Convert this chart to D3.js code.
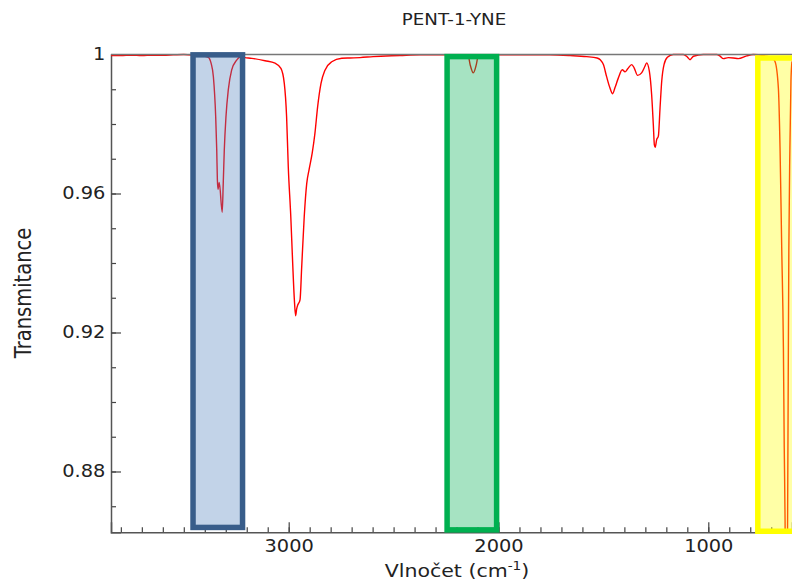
<!DOCTYPE html>
<html>
<head>
<meta charset="utf-8">
<script src="https://cdn.jsdelivr.net/npm/d3@7"></script>
<style>
  body { margin: 0; background: #fff; }
  text { font-family: "DejaVu Sans", sans-serif; fill: #222; }
</style>
</head>
<body>
<svg id="chart" width="792" height="582"></svg>
<script>
// spectrum (wavenumber cm-1, transmittance)
var wavenumber = [3847, 3800, 3750, 3700, 3650, 3600, 3550, 3500, 3450, 3420, 3400, 3383, 3370, 3359,
    3348, 3343, 3340, 3337, 3331, 3317, 3312, 3307, 3299, 3288, 3272, 3248, 3232, 3208, 3176, 3113,
    3065, 3037, 3021, 3010, 3002, 2990, 2981, 2973, 2967, 2962, 2957, 2946, 2938, 2926, 2914, 2903,
    2888, 2875, 2862, 2846, 2827, 2795, 2747, 2708, 2660, 2598, 2470, 2374, 2255, 2145, 2135, 2120,
    2106, 2096, 1993, 1755, 1659, 1580, 1530, 1515, 1500, 1485, 1469, 1456, 1445, 1429, 1410, 1397,
    1384, 1365, 1353, 1337, 1318, 1302, 1294, 1281, 1270, 1262, 1257, 1253, 1246, 1238, 1230, 1222,
    1211, 1195, 1167, 1119, 1100, 1087, 1071, 1024, 960, 945, 928, 905, 881, 857, 817, 786, 730, 696,
    682, 666, 658, 650, 642, 638, 634, 631, 628, 625, 622, 619, 616, 611, 606, 601];
var transmittance = [0.9997, 0.9997, 0.9998, 0.9997, 0.9998, 0.9998, 0.9999, 1.0, 0.9998, 0.9996, 0.9995, 0.9992, 0.9975, 0.9936,
    0.9821, 0.9725, 0.9640, 0.9612, 0.9632, 0.9546, 0.9629, 0.9725, 0.9821, 0.9898, 0.9955, 0.9984, 0.9993, 0.9991, 0.9989, 0.9982,
    0.9975, 0.9960, 0.9917, 0.9821, 0.9677, 0.9533, 0.9399, 0.9294, 0.9248, 0.9268, 0.9279, 0.9294, 0.9389, 0.9533, 0.9629, 0.9668,
    0.9716, 0.9773, 0.9850, 0.9917, 0.9955, 0.9979, 0.9989, 0.9990, 0.9991, 0.9994, 0.9997, 0.9999, 0.9999, 0.9997, 0.9970, 0.9947,
    0.9970, 0.9997, 0.9999, 0.9999, 0.9997, 0.9994, 0.9990, 0.9985, 0.9971, 0.9937, 0.9904, 0.9887, 0.9904, 0.9932, 0.9956, 0.9950,
    0.9959, 0.9971, 0.9961, 0.9940, 0.9947, 0.9966, 0.9976, 0.9952, 0.9884, 0.9798, 0.9740, 0.9733, 0.9755, 0.9765, 0.9846, 0.9923,
    0.9971, 0.9992, 1.0, 1.0, 0.9993, 0.9985, 0.9995, 1.0, 1.0, 0.9996, 0.9988, 0.9991, 0.9990, 0.9988, 0.9996, 1.0, 0.9996, 0.9990,
    0.9980, 0.9904, 0.9731, 0.9443, 0.9157, 0.8869, 0.8658, 0.835, 0.82, 0.835, 0.8658, 0.9060, 0.9443, 0.9731, 0.9924, 0.9980];

// highlighted bands
var boxStart = [3456, 2245, 764];
var boxEnd = [3220, 2009, 560];
var boxTop = [0.9999, 0.9994, 0.9990];
var boxBottom = [0.8639, 0.8632, 0.8628];
var boxStroke = ["#385d8a", "#00b050", "#ffff00"];
var boxFill = ["#4f81bd", "#00b050", "#ffff00"];

var xMajor = [3000, 2000, 1000];
var xMinor = d3.range(700, 3801, 100);
var yMajor = [0.88, 0.92, 0.96, 1];
var yLabels = ["0.88", "0.92", "0.96", "1"];
var yMinor = [0.87, 0.88, 0.89, 0.90, 0.91, 0.92, 0.93, 0.94, 0.95, 0.96, 0.97, 0.98, 0.99, 1];

var svg = d3.select("#chart");
var pLeft = 111, pRight = 792, pTop = 54.5, pBottom = 532.3;
var stretch = "scale(1.14,1)"; // text in the picture is a bit wide

var x = d3.scaleLinear().domain([3847, 601]).range([pLeft, pRight]);
var y = d3.scaleLinear().domain([0.8625, 1]).range([pBottom, pTop]);

// title
svg.append("text")
    .attr("transform", "translate(454,25) " + stretch)
    .attr("text-anchor", "middle")
    .attr("font-size", 16)
    .text("PENT-1-YNE");

// minor ticks first, then the labelled ones
var yMinorAxis = svg.append("g")
    .attr("transform", "translate(" + pLeft + ",0)")
    .call(d3.axisLeft(y).tickValues(yMinor).tickSize(-5).tickFormat(""));
var yAxis = svg.append("g")
    .attr("transform", "translate(" + pLeft + ",0)")
    .call(d3.axisLeft(y).tickValues(yMajor).tickSize(-10).tickPadding(5)
        .tickFormat(function(d, i) { return yLabels[i]; }));
var xMinorAxis = svg.append("g")
    .attr("transform", "translate(0," + pBottom + ")")
    .call(d3.axisBottom(x).tickValues(xMinor).tickSize(-5).tickFormat(""));
var xAxis = svg.append("g")
    .attr("transform", "translate(0," + pBottom + ")")
    .call(d3.axisBottom(x).tickValues(xMajor).tickSize(-10).tickPadding(8)
        .tickFormat(d3.format("d")));

[yMinorAxis, yAxis, xMinorAxis, xAxis].forEach(function(g) {
    g.selectAll("path").attr("stroke", "#555").attr("stroke-width", 1.5);
    g.selectAll("line").attr("stroke", "#444").attr("stroke-width", 1.2);
    g.selectAll("text")
        .attr("font-size", 17)
        .attr("fill", "#222")
        .attr("font-family", "DejaVu Sans, sans-serif")
        .attr("transform", stretch);
});
yMinorAxis.select(".domain").remove();
xMinorAxis.select(".domain").remove();

// spectrum
svg.append("clipPath").attr("id", "plotclip")
    .append("rect")
    .attr("x", pLeft).attr("y", pTop - 10)
    .attr("width", pRight - pLeft).attr("height", pBottom - pTop + 10);

var points = wavenumber.map(function(d, i) { return [d, transmittance[i]]; });
var line = d3.line()
    .x(function(d) { return x(d[0]); })
    .y(function(d) { return y(d[1]); })
    .curve(d3.curveMonotoneX);

svg.append("path")
    .datum(points)
    .attr("clip-path", "url(#plotclip)")
    .attr("fill", "none")
    .attr("stroke", "#ff0000")
    .attr("stroke-width", 1.4)
    .attr("d", line);

// top frame line
svg.append("line")
    .attr("x1", pLeft).attr("x2", pRight)
    .attr("y1", y(1)).attr("y2", y(1))
    .attr("stroke", "#777")
    .attr("stroke-width", 1.5);

// coloured bands over the spectrum
svg.append("g")
    .selectAll("rect")
    .data(boxStart)
    .enter().append("rect")
    .attr("x", function(d) { return x(d); })
    .attr("y", function(d, i) { return y(boxTop[i]); })
    .attr("width", function(d, i) { return x(boxEnd[i]) - x(d); })
    .attr("height", function(d, i) { return y(boxBottom[i]) - y(boxTop[i]); })
    .attr("fill", function(d, i) { return boxFill[i]; })
    .attr("fill-opacity", 0.35)
    .attr("stroke", function(d, i) { return boxStroke[i]; })
    .attr("stroke-width", 5.5);

// axis titles
svg.append("text")
    .attr("transform", "translate(31,293) " + stretch + " rotate(-90)")
    .attr("text-anchor", "middle")
    .attr("font-size", 19.5)
    .text("Transmitance");

var xt = svg.append("text")
    .attr("transform", "translate(457,577) " + stretch)
    .attr("text-anchor", "middle")
    .attr("font-size", 18);
xt.append("tspan").text("Vlnočet (cm");
xt.append("tspan").attr("font-size", 12).attr("dy", -7).text("-1");
xt.append("tspan").attr("dy", 7).text(")");
</script>
</body>
</html>
